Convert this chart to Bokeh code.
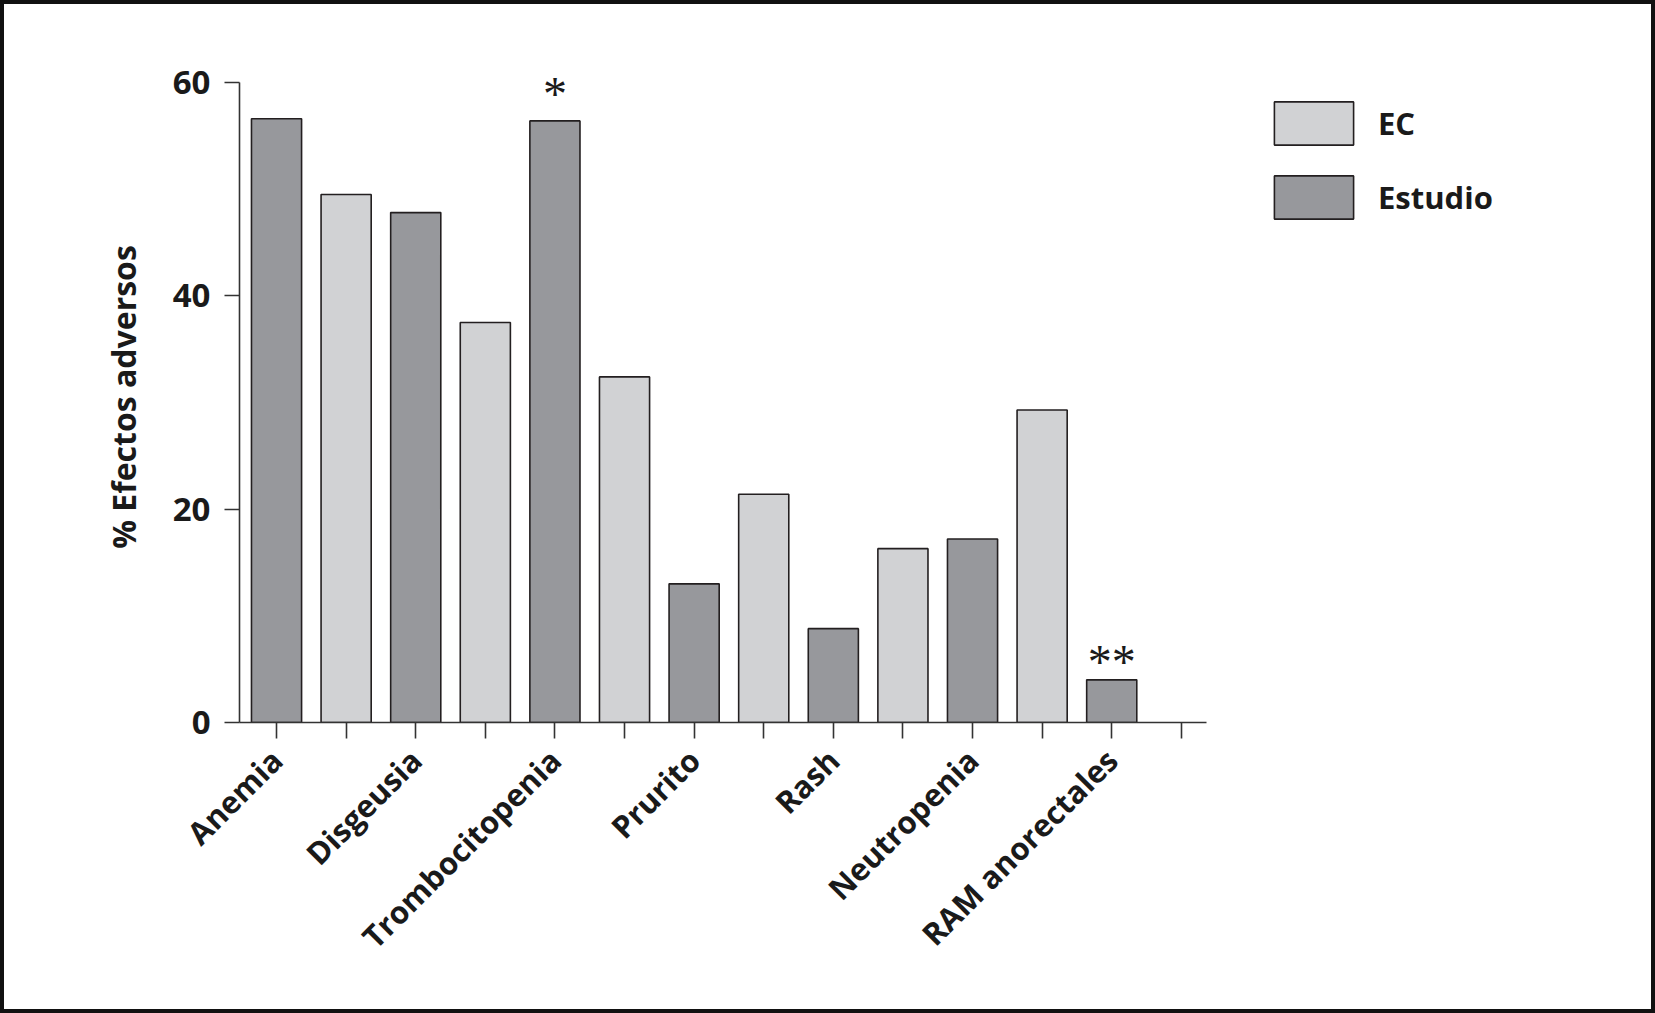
import math
from bokeh.plotting import figure
from bokeh.models import Range1d, FixedTicker, Legend, LegendItem
from bokeh.core.properties import value
from bokeh.embed import file_html
from bokeh.resources import INLINE

# ---- data ----
tick_slots = [1, 2, 3, 4, 5, 6, 7, 8, 9, 10, 11, 12, 13, 14]
tick_labels = ["Anemia", "", "Disgeusia", "", "Trombocitopenia", "", "Prurito", "",
               "Rash", "", "Neutropenia", "", "RAM anorectales", ""]

ec_slots = [2, 4, 6, 8, 10, 12]
ec_values = [49.5, 37.5, 32.4, 21.4, 16.3, 29.3]

estudio_slots = [1, 3, 5, 7, 9, 11, 13]
estudio_values = [56.6, 47.8, 56.4, 13.0, 8.8, 17.2, 4.0]

sig_slots = [5, 13]
sig_y = [59.0, 5.7]
sig_text = ["*", "**"]

y_ticks = [0, 20, 40, 60]

# ---- layout ----
W, H = 1655, 1013
FL, FR, FT, FB = 239, 20, 71, 291
X0 = 0.468
PX_SLOT = 69.6
PX_Y = 10.667
x_end = X0 + (W - FL - FR) / PX_SLOT
y_end = (H - FT - FB) / PX_Y

FONT = "Open Sans"
INK = "#1a1a1a"
LINE = "#333333"

p = figure(width=W, height=H, output_backend="svg", toolbar_location=None,
           x_range=Range1d(X0, x_end), y_range=Range1d(0, y_end),
           min_border_left=FL, min_border_right=FR, min_border_top=FT,
           min_border_bottom=FB)
p.outline_line_color = None
p.xgrid.visible = False
p.ygrid.visible = False
p.background_fill_color = "white"
p.border_fill_color = "white"
p.border_fill_alpha = 0
p.styles = {"background-color": "white",
            "box-shadow": "inset 0 0 0 4px #111111"}

r_ec = p.vbar(x=ec_slots, top=ec_values, width=0.72, bottom=0,
              fill_color="#d1d2d4", line_color="#231f20", line_width=1.6)
r_st = p.vbar(x=estudio_slots, top=estudio_values, width=0.72, bottom=0,
              fill_color="#97989c", line_color="#231f20", line_width=1.6)

p.text(x=sig_slots, y=sig_y, text=sig_text, text_font=value("Liberation Serif"),
       text_font_size="48px", text_align="center", text_baseline="middle",
       text_color=INK)

# x axis
xa = p.xaxis[0]
xa.ticker = FixedTicker(ticks=tick_slots)
xa.major_label_overrides = {s: l for s, l in zip(tick_slots, tick_labels)}
xa.bounds = (X0, 14.36)
xa.major_label_orientation = math.pi / 4
xa.major_tick_out = 16
xa.major_tick_in = 0
xa.minor_tick_out = 0
xa.minor_tick_in = 0
xa.axis_line_color = LINE
xa.axis_line_width = 1.6
xa.major_tick_line_color = LINE
xa.major_tick_line_width = 1.6
xa.major_label_text_font = FONT
xa.major_label_text_font_style = "bold"
xa.major_label_text_font_size = "31px"
xa.major_label_text_color = INK
xa.major_label_standoff = 16

# y axis
ya = p.yaxis[0]
ya.ticker = FixedTicker(ticks=y_ticks)
ya.bounds = (0, 60)
ya.major_tick_out = 15
ya.major_tick_in = 0
ya.minor_tick_out = 0
ya.minor_tick_in = 0
ya.axis_line_color = LINE
ya.axis_line_width = 1.6
ya.major_tick_line_color = LINE
ya.major_tick_line_width = 1.6
ya.major_label_text_font = FONT
ya.major_label_text_font_style = "bold"
ya.major_label_text_font_size = "33px"
ya.major_label_text_color = INK
ya.major_label_standoff = 14
ya.axis_label = "% Efectos adversos"
ya.axis_label_text_font = FONT
ya.axis_label_text_font_style = "bold"
ya.axis_label_text_font_size = "32px"
ya.axis_label_text_color = INK
ya.axis_label_standoff = 25

legend = Legend(items=[LegendItem(label="EC", renderers=[r_ec]),
                       LegendItem(label="Estudio", renderers=[r_st])],
                location=(1025, 498), glyph_width=99, glyph_height=54,
                spacing=20, label_standoff=15, padding=0, margin=0,
                border_line_color=None, background_fill_alpha=0,
                label_text_font=FONT, label_text_font_style="bold",
                label_text_font_size="31px", label_text_color=INK,
                label_height=54)
p.add_layout(legend)

open("out.html", "w").write(file_html(p, INLINE))
